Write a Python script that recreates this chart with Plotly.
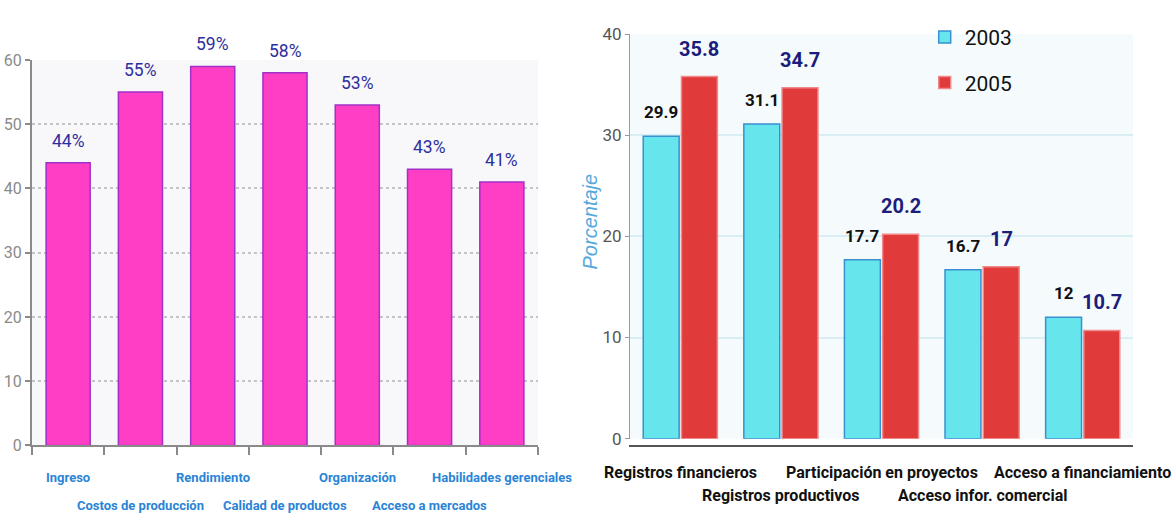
import plotly.graph_objects as go

# ---------------- data ----------------
left_categories = ["Ingreso", "Costos de producción", "Rendimiento", "Calidad de productos",
                   "Organización", "Acceso a mercados", "Habilidades gerenciales"]
left_values = [44, 55, 59, 58, 53, 43, 41]
left_yticks = [0, 10, 20, 30, 40, 50, 60]

right_categories = ["Registros financieros", "Registros productivos", "Participación en proyectos",
                    "Acceso infor. comercial", "Acceso a financiamiento"]
series_2003 = [29.9, 31.1, 17.7, 16.7, 12]
series_2005 = [35.8, 34.7, 20.2, 17, 10.7]
right_yticks = [0, 10, 20, 30, 40]
right_ytitle = "Porcentaje"

# ---------------- style ----------------
FONT = "Roboto, Liberation Sans, Arial, sans-serif"
W, H = 1172, 516
LX0, LX1 = 32, 538          # left plot area px
LY0, LY1 = 453, 52
RX0, RX1 = 630, 1133        # right plot area px
RY0, RY1 = 446, 25

fig = go.Figure()

fig.add_trace(go.Bar(
    x=left_categories, y=left_values, xaxis="x", yaxis="y",
    width=0.61, showlegend=False,
    marker=dict(color="#ff3ec6", line=dict(color="#a030c8", width=1.5)),
    hoverinfo="x+y",
))
fig.add_trace(go.Bar(
    x=right_categories, y=series_2003, xaxis="x2", yaxis="y2", name="2003",
    legendgroup="a",
    marker=dict(color="#66e6ec", line=dict(color="#3a8fd0", width=1.5)),
))
fig.add_trace(go.Bar(
    x=right_categories, y=series_2005, xaxis="x2", yaxis="y2", name="2005",
    legendgroup="b",
    marker=dict(color="#e03a3a", line=dict(color="#f08a8a", width=1.5)),
))

annotations = []
# left value labels
for c, v in zip(left_categories, left_values):
    annotations.append(dict(x=c, y=v, xref="x", yref="y", text=f"{v}%", showarrow=False,
                            yanchor="bottom", yshift=10,
                            font=dict(family=FONT, size=17.5, color="#2e2e9e")))
# left staggered category labels
for i, c in enumerate(left_categories):
    annotations.append(dict(x=c, y=0, xref="x", yref="y", text=f"<b>{c}</b>", showarrow=False,
                            yanchor="top", yshift=-23 if i % 2 == 0 else -51,
                            font=dict(family=FONT, size=13, color="#2a84d6")))

# right value labels
slot = (RX1 - RX0) / len(right_categories)
bar_offset = slot * (1 - 0.24) / 4
for c, v in zip(right_categories, series_2003):
    annotations.append(dict(x=c, y=v, xref="x2", yref="y2", text=f"<b>{v}</b>", showarrow=False,
                            yanchor="bottom", yshift=12, xshift=-bar_offset,
                            font=dict(family=FONT, size=17, color="#111111")))
for c, v in zip(right_categories, series_2005):
    annotations.append(dict(x=c, y=v, xref="x2", yref="y2", text=f"<b>{v}</b>", showarrow=False,
                            yanchor="bottom", yshift=14, xshift=bar_offset,
                            font=dict(family=FONT, size=20, color="#1c1c7c")))
# right staggered category labels
for i, c in enumerate(right_categories):
    annotations.append(dict(x=c, y=0, xref="x2", yref="y2", text=f"<b>{c}</b>", showarrow=False,
                            yanchor="top", yshift=-22 if i % 2 == 0 else -45,
                            font=dict(family=FONT, size=16, color="#111111")))
# right y-axis title
annotations.append(dict(x=590 / W, y=(H - 220) / H, xref="paper", yref="paper",
                        text=right_ytitle, textangle=-90, showarrow=False,
                        xanchor="center", yanchor="middle",
                        font=dict(family="Liberation Sans, Arial, sans-serif", size=20,
                                  color="#55a8dc", style="italic")))

shapes = [
    dict(type="rect", xref="x domain", yref="y domain", x0=0, x1=1, y0=0, y1=1,
         fillcolor="#f8f8fb", line=dict(width=0), layer="below"),
    dict(type="rect", xref="x2 domain", yref="y2 domain", x0=0, x1=1, y0=0, y1=1,
         fillcolor="#f5fbfd", line=dict(width=0), layer="below"),
]

fig.update_layout(
    width=W, height=H, autosize=False,
    margin=dict(l=0, r=0, t=0, b=0),
    paper_bgcolor="white", plot_bgcolor="rgba(0,0,0,0)",
    barmode="group", bargap=0.24, bargroupgap=0.06,
    font=dict(family=FONT),
    annotations=annotations, shapes=shapes,
    xaxis=dict(domain=[LX0 / W, LX1 / W], type="category", showticklabels=False,
               tickson="boundaries", ticks="outside", ticklen=8, tickwidth=2, tickcolor="#8a8a8a",
               showline=True, linecolor="#8a8a8a", linewidth=2, showgrid=False,
               range=[-0.5, len(left_categories) - 0.5], fixedrange=True),
    yaxis=dict(domain=[(H - LY0) / H, (H - LY1) / H], range=[0, 60], tickvals=left_yticks,
               showline=True, linecolor="#8a8a8a", linewidth=2, ticks="outside", ticklen=5,
               tickwidth=2, tickcolor="#8a8a8a",
               tickfont=dict(family=FONT, size=16, color="#8a8a8a"),
               showgrid=True, gridcolor="#c4c4c8", griddash="dot", gridwidth=1.5,
               zeroline=False, fixedrange=True),
    xaxis2=dict(domain=[RX0 / W, RX1 / W], type="category", showticklabels=False,
                showline=True, linecolor="#555555", linewidth=2, showgrid=False,
                ticks="", range=[-0.5, len(right_categories) - 0.5], fixedrange=True),
    yaxis2=dict(domain=[(H - RY0) / H, (H - RY1) / H], range=[0, 40], tickvals=right_yticks,
                anchor="x2",
                showline=True, linecolor="#9a9a9a", linewidth=1, ticks="outside", ticklen=4,
                tickcolor="#9a9a9a",
                tickfont=dict(family=FONT, size=17, color="#555555"),
                showgrid=True, gridcolor="#d8eef3", gridwidth=1.5, zeroline=False,
                fixedrange=True),
    legend=dict(x=0.789, y=0.986, xanchor="left", yanchor="top",
                bgcolor="rgba(0,0,0,0)", tracegroupgap=15,
                font=dict(family=FONT, size=21, color="#111111")),
)

fig.write_html("out.html")
